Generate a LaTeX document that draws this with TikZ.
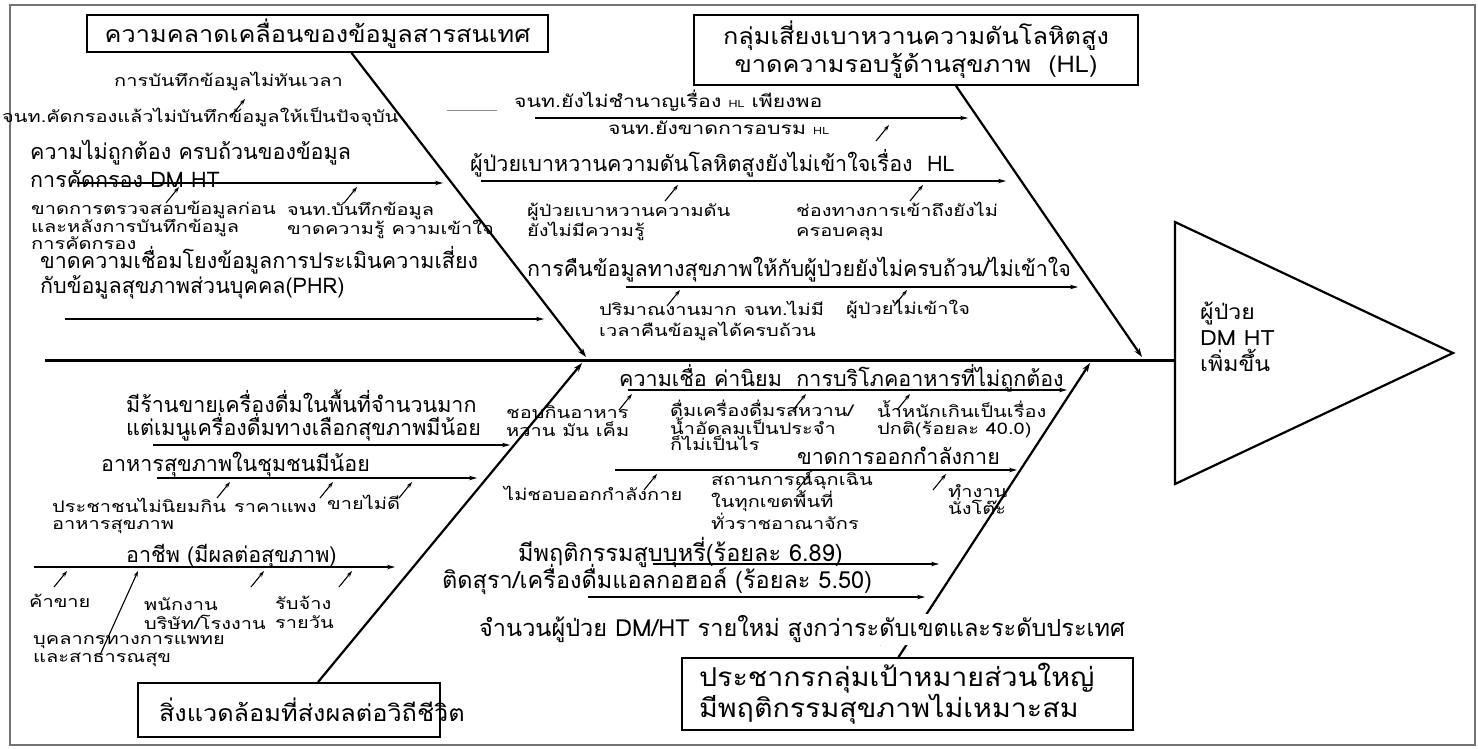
\documentclass[tikz,border=0pt]{standalone}
\usepackage{fontspec}
\newfontfamily\thaifont[Script=Thai]{Loma}
\newfontfamily\thaibox[Script=Thai,FakeStretch=1.1]{Loma}
\newfontfamily\thaiwide[Script=Thai,FakeStretch=1.25]{Loma}
\usetikzlibrary{arrows.meta,positioning,calc}

\begin{document}
\begin{tikzpicture}[x=1pt,y=-1pt,
    every node/.style={inner sep=0pt},
    titlebox/.style={draw,line width=1.8pt,font=\thaibox\fontsize{23}{28}\selectfont},
    mainlab/.style={anchor=base west,yshift=-6.3pt,align=left,font=\thaifont\fontsize{21.5}{23}\selectfont},
    countlab/.style={anchor=base west,yshift=-6.8pt,font=\thaifont\fontsize{23.5}{24}\selectfont},
    sublab/.style={anchor=base west,yshift=-4.6pt,align=left,font=\thaiwide\fontsize{16}{18}\selectfont},
    rib/.style={line width=2.2pt,-{Stealth[length=9pt,width=6pt]}},
    bone/.style={line width=1.1pt,-{Stealth[length=8pt,width=4.5pt]}},
    twig/.style={line width=1.1pt,-{Stealth[length=6pt,width=4pt]}}]
  \useasboundingbox (0,0) rectangle (1478,748);
  \draw[black!55,line width=1.5pt] (10,5) rectangle (1475,745);

  % head and spine
  \coordinate (tail) at (45,360);
  \coordinate (neck) at (1175,360);
  \draw[line width=3pt] (tail) -- (neck);
  \draw[line width=2.2pt] (1175,222) -- (1453,353) -- (1175,484) -- cycle;
  \node[anchor=base west,yshift=-6pt,align=left,font=\thaibox\fontsize{21}{26}\selectfont] (effect) at (1200,365) {ผู้ป่วย\\DM HT\\เพิ่มขึ้น};

  % category boxes
  \node[titlebox,minimum width=461pt,minimum height=37pt] (boxInfo) at (317.5,33.5) {ความคลาดเคลื่อนของข้อมูลสารสนเทศ};
  \node[titlebox,minimum width=444pt,minimum height=70pt,align=center] (boxHL) at (916,50) {กลุ่มเสี่ยงเบาหวานความดันโลหิตสูง\\ขาดความรอบรู้ด้านสุขภาพ~~(HL)};
  \node[titlebox,text width=260pt,inner xsep=21pt,minimum height=54pt,align=left] (boxEnv) at (289,710) {สิ่งแวดล้อมที่ส่งผลต่อวิถีชีวิต};
  \node[titlebox,font=\thaibox\fontsize{26}{27}\selectfont,text width=417pt,inner xsep=17pt,minimum height=72pt,align=left] (boxPop) at (907.5,694) {ประชากรกลุ่มเป้าหมายส่วนใหญ่\\มีพฤติกรรมสุขภาพไม่เหมาะสม};

  % ribs
  \coordinate (jInfo) at (586,357);
  \coordinate (jHL) at (1142,357);
  \coordinate (jEnv) at (582,363);
  \coordinate (jPop) at (1090,363);
  \draw[rib] ([xshift=34pt]boxInfo.south) -- (jInfo);
  \draw[rib] ([xshift=40pt]boxHL.south) -- (jHL);
  \draw[rib] ([xshift=29pt]boxEnv.north) -- (jEnv);
  \draw[rib] ([xshift=-9pt]boxPop.north) -- (jPop);

  % sub-causes
  \foreach \n/\xa/\xb/\y in {a1/77/443/183,a2/65/544/319,b1/535/968/118,b2/481/1006/181,b3/626/1078/287,
      c1/153/510/445,c2/157/477/478,c3/34/395/567,d1/628/1067/390,d2/615/1017/470,
      e1/653/939/564,e2/588/925/597,e3/627/888/643}{
    \coordinate (\n s) at (\xa,\y);
    \coordinate (\n e) at (\xb,\y);
    \draw[bone] (\n s) -- (\n e);
  }
  \foreach \x/\y in {245/99,179/187,357/187,889/125,678/185,923/185,680/290,907/290,
      230/482,333/482,412/482,67/571,264/571,352/571,632/394,806/394,910/394,657/474,810/474,946/474}
    \draw[twig] (\x-13,\y+16) -- (\x,\y);
  \draw[twig] (100,655) -- (138,571);
  \draw[black!45,line width=1pt] (447,110) -- (497,110);

  % information errors
  \node[sublab] (lateRec) at (114,82) {การบันทึกข้อมูลไม่ทันเวลา};
  \node[sublab] (noUpdate) at (2,118) {จนท.คัดกรองแล้วไม่บันทึกข้อมูลให้เป็นปัจจุบัน};
  \node[mainlab,font=\thaifont\fontsize{21.5}{28}\selectfont] (wrongData) at (30,181) {ความไม่ถูกต้อง ครบถ้วนของข้อมูล\\การคัดกรอง DM HT};
  \node[sublab,font=\thaiwide\fontsize{16}{17}\selectfont] (noCheck) at (31,245) {ขาดการตรวจสอบข้อมูลก่อน\\และหลังการบันทึกข้อมูล\\การคัดกรอง};
  \node[sublab,font=\thaiwide\fontsize{16}{17}\selectfont] (staffRec) at (287,230) {จนท.บันทึกข้อมูล\\ขาดความรู้ ความเข้าใจ};
  \node[mainlab] (noLink) at (40,287) {ขาดความเชื่อมโยงข้อมูลการประเมินความเสี่ยง\\กับข้อมูลสุขภาพส่วนบุคคล(PHR)};

  % health literacy
  \node[sublab,font=\thaiwide\fontsize{17}{18}\selectfont] (staffHL) at (514,103) {จนท.ยังไม่ชำนาญเรื่อง {\fontsize{10}{10}\selectfont HL} เพียงพอ};
  \node[sublab,font=\thaiwide\fontsize{17}{18}\selectfont] (noTrain) at (608,130) {จนท.ยังขาดการอบรม {\fontsize{10}{10}\selectfont HL}};
  \node[mainlab] (ptHL) at (470,165) {ผู้ป่วยเบาหวานความดันโลหิตสูงยังไม่เข้าใจเรื่อง~~HL};
  \node[sublab,font=\thaiwide\fontsize{16}{20}\selectfont] (ptKnow) at (527,232) {ผู้ป่วยเบาหวานความดัน\\ยังไม่มีความรู้};
  \node[sublab,font=\thaiwide\fontsize{16}{20}\selectfont] (access) at (796,232) {ช่องทางการเข้าถึงยังไม่\\ครอบคลุม};
  \node[mainlab] (feedback) at (527,270) {การคืนข้อมูลทางสุขภาพให้กับผู้ป่วยยังไม่ครบถ้วน/ไม่เข้าใจ};
  \node[sublab,font=\thaiwide\fontsize{16}{21}\selectfont] (workload) at (599,332) {ปริมาณงานมาก จนท.ไม่มี\\เวลาคืนข้อมูลได้ครบถ้วน};
  \node[sublab] (ptNoUnd) at (846,310) {ผู้ป่วยไม่เข้าใจ};

  % environment
  \node[mainlab] (drinkShop) at (126,429) {มีร้านขายเครื่องดื่มในพื้นที่จำนวนมาก\\แต่เมนูเครื่องดื่มทางเลือกสุขภาพมีน้อย};
  \node[mainlab] (healthyFood) at (101,465) {อาหารสุขภาพในชุมชนมีน้อย};
  \node[sublab,font=\thaiwide\fontsize{16}{17}\selectfont] (notPopular) at (52,525) {ประชาชนไม่นิยมกิน\\อาหารสุขภาพ};
  \node[sublab] (pricey) at (234,508) {ราคาแพง};
  \node[sublab] (poorSale) at (327,505) {ขายไม่ดี};
  \node[mainlab] (career) at (126,556) {อาชีพ (มีผลต่อสุขภาพ)};
  \node[sublab] (trade) at (29,603) {ค้าขาย};
  \node[sublab,font=\thaiwide\fontsize{16}{19}\selectfont] (employee) at (144,625) {พนักงาน\\บริษัท/โรงงาน};
  \node[sublab,font=\thaiwide\fontsize{16}{19}\selectfont] (daily) at (275,624) {รับจ้าง\\รายวัน};
  \node[sublab] (medStaff) at (33,658) {บุคลากรทางการแพทย\\และสาธารณสุข};

  % behaviour
  \node[mainlab] (belief) at (619,380) {ความเชื่อ ค่านิยม~~การบริโภคอาหารที่ไม่ถูกต้อง};
  \node[sublab] (sweet) at (506,432) {ชอบกินอาหาร\\หวาน มัน เค็ม};
  \node[sublab,font=\thaiwide\fontsize{16}{16.5}\selectfont] (soda) at (670,446) {ดื่มเครื่องดื่มรสหวาน/\\น้ำอัดลมเป็นประจำ\\ก็ไม่เป็นไร};
  \node[sublab,font=\thaiwide\fontsize{16}{17}\selectfont] (overweight) at (877,430) {น้ำหนักเกินเป็นเรื่อง\\ปกติ(ร้อยละ 40.0)};
  \node[mainlab] (noExercise) at (797,458) {ขาดการออกกำลังกาย};
  \node[sublab] (dislike) at (504,496) {ไม่ชอบออกกำลังกาย};
  \node[sublab,font=\thaiwide\fontsize{16}{16}\selectfont] (emergency) at (711,525) {สถานการณ์ฉุกเฉิน\\ในทุกเขตพื้นที่\\ทั่วราชอาณาจักร};
  \node[sublab,font=\thaiwide\fontsize{16}{17}\selectfont] (desk) at (948,510) {ทำงาน\\นั่งโต๊ะ};
  \node[countlab] (smoke) at (518,555) {มีพฤติกรรมสูบบุหรี่(ร้อยละ 6.89)};
  \node[countlab] (alcohol) at (442,582) {ติดสุรา/เครื่องดื่มแอลกอฮอล์ (ร้อยละ 5.50)};
  \node[countlab,fill=white,inner ysep=2pt] (newCase) at (479,630) {จำนวนผู้ป่วย DM/HT รายใหม่ สูงกว่าระดับเขตและระดับประเทศ};
\end{tikzpicture}
\end{document}
